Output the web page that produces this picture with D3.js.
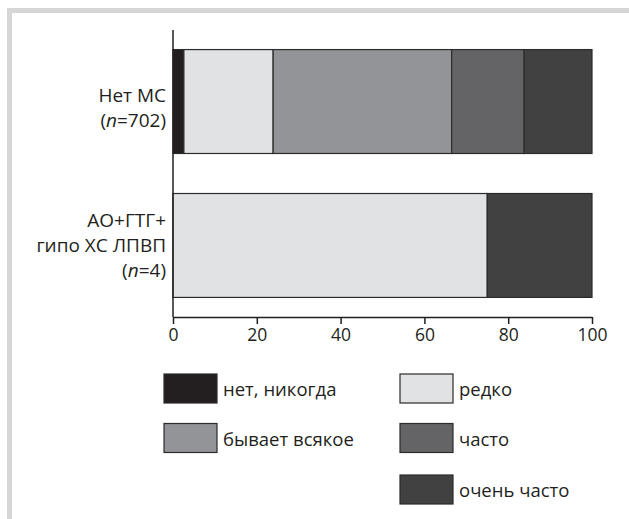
<!DOCTYPE html>
<html>
<head>
<meta charset="utf-8">
<script src="https://cdn.jsdelivr.net/npm/d3@7"></script>
<style>
  html, body { margin: 0; padding: 0; background: #fff; }
  svg { display: block; }
  text { font-family: "Open Sans", "Noto Sans", sans-serif; fill: #231f20; }
</style>
</head>
<body>
<svg id="chart" width="629" height="519"></svg>
<script>
// ---- data ----
const categories = ["Нет МС", "АО+ГТГ+ гипо ХС ЛПВП"];
const categoryLines = [["Нет МС", "(n=702)"], ["АО+ГТГ+", "гипо ХС ЛПВП", "(n=4)"]];
const seriesNames = ["нет, никогда", "редко", "бывает всякое", "часто", "очень часто"];
const never = [2.6, 0];
const rarely = [21.3, 75];
const sometimes = [42.6, 0];
const often = [17.3, 0];
const veryOften = [16.2, 25];
const tickValues = [0, 20, 40, 60, 80, 100];
const colors = ["#231f20", "#e1e2e4", "#939497", "#646466", "#414142"];

const seriesValues = [never, rarely, sometimes, often, veryOften];
const table = categories.map((c, i) => {
  const row = { cat: c };
  seriesNames.forEach((s, j) => row[s] = seriesValues[j][i]);
  return row;
});

const svg = d3.select("#chart");

// frame
svg.append("rect").attr("x", 7).attr("y", 8).attr("width", 622).attr("height", 5).attr("fill", "#d6d6d6");
svg.append("rect").attr("x", 7).attr("y", 8).attr("width", 5).attr("height", 511).attr("fill", "#d6d6d6");

const x = d3.scaleLinear().domain([0, 100]).range([173, 592]);
const y = d3.scaleBand().domain(categories).range([30, 317]).paddingInner(0.278).paddingOuter(0.136);

const stack = d3.stack().keys(seriesNames)(table);

svg.append("g").selectAll("g").data(stack).join("g")
  .attr("fill", (d, i) => colors[i])
  .selectAll("rect").data(d => d.filter(p => p[1] - p[0] > 0)).join("rect")
  .attr("x", d => x(d[0]))
  .attr("y", d => y(d.data.cat))
  .attr("width", d => x(d[1]) - x(d[0]))
  .attr("height", y.bandwidth())
  .attr("stroke", "#2b2b2b")
  .attr("stroke-width", 1.2);

// x axis
const xAxis = d3.axisBottom(x).tickValues(tickValues).tickSize(7).tickSizeOuter(0).tickPadding(5);
const gx = svg.append("g").attr("transform", "translate(0,317)").call(xAxis);
gx.select(".domain").attr("stroke", "#231f20").attr("stroke-width", 1.5);
gx.selectAll(".tick line").attr("stroke", "#231f20").attr("stroke-width", 1.5);
gx.selectAll(".tick text").attr("font-size", 17.5).attr("font-family", "Open Sans").attr("fill", "#231f20");

// y axis line
svg.append("line").attr("x1", x(0)).attr("x2", x(0)).attr("y1", 30).attr("y2", 317)
  .attr("stroke", "#231f20").attr("stroke-width", 1.5);

// category labels (one text element per line)
const lineH = [25, 25];
const labelShift = [13, 7];
categories.forEach((c, i) => {
  const lines = categoryLines[i];
  const cy = y(c) + y.bandwidth() / 2;
  lines.forEach((ln, k) => {
    const base = cy + labelShift[i] + (k - (lines.length - 1) / 2) * lineH[i];
    const t = svg.append("text").attr("text-anchor", "end").attr("font-size", 19)
      .attr("x", 166).attr("y", base);
    const m = ln.match(/^\((n)(=.*)\)$/);
    if (m) {
      t.append("tspan").text("(");
      t.append("tspan").attr("font-style", "italic").text("n");
      t.append("tspan").text(m[2] + ")");
    } else {
      t.text(ln);
    }
  });
});

// legend
const legendPos = [[164, 374], [400, 374], [164, 423.5], [400, 423.5], [400, 475]];
const lg = svg.append("g").selectAll("g").data(seriesNames).join("g")
  .attr("transform", (d, i) => `translate(${legendPos[i][0]},${legendPos[i][1]})`);
lg.append("rect").attr("width", 53).attr("height", 29)
  .attr("fill", (d, i) => colors[i]).attr("stroke", "#2b2b2b").attr("stroke-width", 1.2);
lg.append("text").attr("x", 59).attr("y", 22).attr("font-size", 18.5).text(d => d);
</script>
</body>
</html>
